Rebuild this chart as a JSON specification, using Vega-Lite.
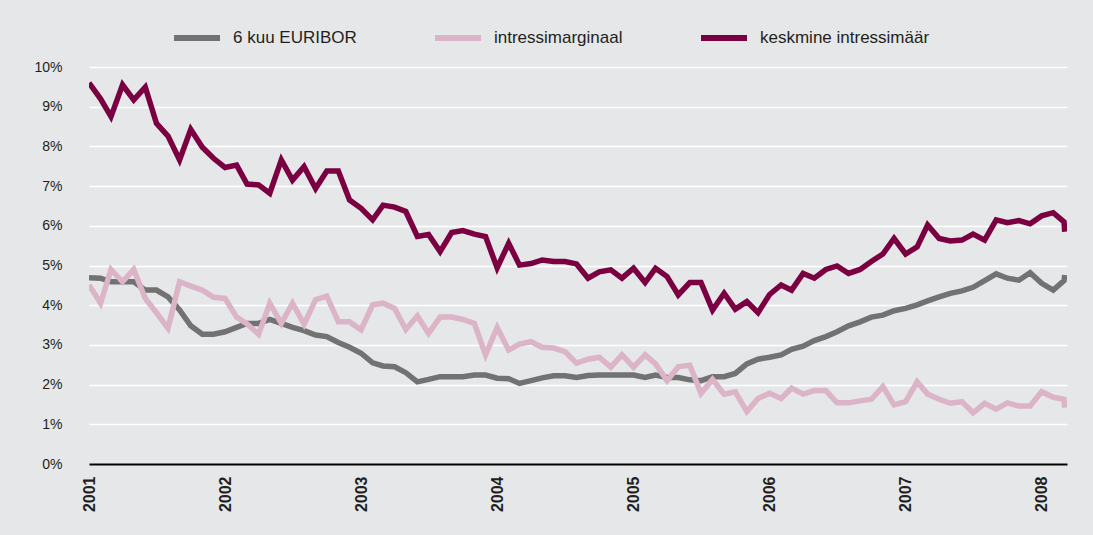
{
  "$schema": "https://vega.github.io/schema/vega-lite/v6.json",
  "width": 978,
  "height": 397,
  "autosize": {"type": "none"},
  "padding": {"left": 89, "top": 67, "right": 26, "bottom": 71},
  "background": "#e6e7e8",
  "config": {"view": {"stroke": null}, "font": "Liberation Sans"},
  "data": {"values": [
    {"date": "2001-01-01", "6 kuu EURIBOR": 4.69, "intressimarginaal": 4.51, "keskmine intressimäär": 9.6},
    {"date": "2001-02-01", "6 kuu EURIBOR": 4.68, "intressimarginaal": 4.05, "keskmine intressimäär": 9.2},
    {"date": "2001-03-01", "6 kuu EURIBOR": 4.59, "intressimarginaal": 4.90, "keskmine intressimäär": 8.75},
    {"date": "2001-04-01", "6 kuu EURIBOR": 4.59, "intressimarginaal": 4.59, "keskmine intressimäär": 9.55},
    {"date": "2001-05-01", "6 kuu EURIBOR": 4.59, "intressimarginaal": 4.90, "keskmine intressimäär": 9.17},
    {"date": "2001-06-01", "6 kuu EURIBOR": 4.38, "intressimarginaal": 4.17, "keskmine intressimäär": 9.49},
    {"date": "2001-07-01", "6 kuu EURIBOR": 4.38, "intressimarginaal": 3.81, "keskmine intressimäär": 8.58},
    {"date": "2001-08-01", "6 kuu EURIBOR": 4.21, "intressimarginaal": 3.42, "keskmine intressimäär": 8.26},
    {"date": "2001-09-01", "6 kuu EURIBOR": 3.88, "intressimarginaal": 4.59, "keskmine intressimäär": 7.66},
    {"date": "2001-10-01", "6 kuu EURIBOR": 3.48, "intressimarginaal": 4.48, "keskmine intressimäär": 8.43},
    {"date": "2001-11-01", "6 kuu EURIBOR": 3.27, "intressimarginaal": 4.38, "keskmine intressimäär": 7.98},
    {"date": "2001-12-01", "6 kuu EURIBOR": 3.27, "intressimarginaal": 4.20, "keskmine intressimäär": 7.70},
    {"date": "2002-01-01", "6 kuu EURIBOR": 3.33, "intressimarginaal": 4.17, "keskmine intressimäär": 7.47},
    {"date": "2002-02-01", "6 kuu EURIBOR": 3.44, "intressimarginaal": 3.70, "keskmine intressimäär": 7.53},
    {"date": "2002-03-01", "6 kuu EURIBOR": 3.54, "intressimarginaal": 3.53, "keskmine intressimäär": 7.05},
    {"date": "2002-04-01", "6 kuu EURIBOR": 3.54, "intressimarginaal": 3.27, "keskmine intressimäär": 7.03},
    {"date": "2002-05-01", "6 kuu EURIBOR": 3.64, "intressimarginaal": 4.05, "keskmine intressimäär": 6.82},
    {"date": "2002-06-01", "6 kuu EURIBOR": 3.54, "intressimarginaal": 3.54, "keskmine intressimäär": 7.66},
    {"date": "2002-07-01", "6 kuu EURIBOR": 3.44, "intressimarginaal": 4.05, "keskmine intressimäär": 7.15},
    {"date": "2002-08-01", "6 kuu EURIBOR": 3.36, "intressimarginaal": 3.52, "keskmine intressimäär": 7.49},
    {"date": "2002-09-01", "6 kuu EURIBOR": 3.25, "intressimarginaal": 4.14, "keskmine intressimäär": 6.94},
    {"date": "2002-10-01", "6 kuu EURIBOR": 3.21, "intressimarginaal": 4.23, "keskmine intressimäär": 7.38},
    {"date": "2002-11-01", "6 kuu EURIBOR": 3.06, "intressimarginaal": 3.58, "keskmine intressimäär": 7.38},
    {"date": "2002-12-01", "6 kuu EURIBOR": 2.94, "intressimarginaal": 3.58, "keskmine intressimäär": 6.65},
    {"date": "2003-01-01", "6 kuu EURIBOR": 2.79, "intressimarginaal": 3.38, "keskmine intressimäär": 6.44},
    {"date": "2003-02-01", "6 kuu EURIBOR": 2.55, "intressimarginaal": 4.01, "keskmine intressimäär": 6.15},
    {"date": "2003-03-01", "6 kuu EURIBOR": 2.47, "intressimarginaal": 4.05, "keskmine intressimäär": 6.52},
    {"date": "2003-04-01", "6 kuu EURIBOR": 2.45, "intressimarginaal": 3.92, "keskmine intressimäär": 6.47},
    {"date": "2003-05-01", "6 kuu EURIBOR": 2.30, "intressimarginaal": 3.39, "keskmine intressimäär": 6.36},
    {"date": "2003-06-01", "6 kuu EURIBOR": 2.07, "intressimarginaal": 3.73, "keskmine intressimäär": 5.73},
    {"date": "2003-07-01", "6 kuu EURIBOR": 2.13, "intressimarginaal": 3.29, "keskmine intressimäär": 5.78},
    {"date": "2003-08-01", "6 kuu EURIBOR": 2.20, "intressimarginaal": 3.70, "keskmine intressimäär": 5.35},
    {"date": "2003-09-01", "6 kuu EURIBOR": 2.20, "intressimarginaal": 3.70, "keskmine intressimäär": 5.83},
    {"date": "2003-10-01", "6 kuu EURIBOR": 2.20, "intressimarginaal": 3.64, "keskmine intressimäär": 5.88},
    {"date": "2003-11-01", "6 kuu EURIBOR": 2.24, "intressimarginaal": 3.54, "keskmine intressimäär": 5.79},
    {"date": "2003-12-01", "6 kuu EURIBOR": 2.24, "intressimarginaal": 2.75, "keskmine intressimäär": 5.73},
    {"date": "2004-01-01", "6 kuu EURIBOR": 2.16, "intressimarginaal": 3.44, "keskmine intressimäär": 4.94},
    {"date": "2004-02-01", "6 kuu EURIBOR": 2.15, "intressimarginaal": 2.87, "keskmine intressimäär": 5.56},
    {"date": "2004-03-01", "6 kuu EURIBOR": 2.03, "intressimarginaal": 3.02, "keskmine intressimäär": 5.01},
    {"date": "2004-04-01", "6 kuu EURIBOR": 2.10, "intressimarginaal": 3.08, "keskmine intressimäär": 5.05},
    {"date": "2004-05-01", "6 kuu EURIBOR": 2.17, "intressimarginaal": 2.94, "keskmine intressimäär": 5.14},
    {"date": "2004-06-01", "6 kuu EURIBOR": 2.22, "intressimarginaal": 2.92, "keskmine intressimäär": 5.10},
    {"date": "2004-07-01", "6 kuu EURIBOR": 2.22, "intressimarginaal": 2.83, "keskmine intressimäär": 5.10},
    {"date": "2004-08-01", "6 kuu EURIBOR": 2.18, "intressimarginaal": 2.54, "keskmine intressimäär": 5.04},
    {"date": "2004-09-01", "6 kuu EURIBOR": 2.23, "intressimarginaal": 2.64, "keskmine intressimäär": 4.68},
    {"date": "2004-10-01", "6 kuu EURIBOR": 2.24, "intressimarginaal": 2.69, "keskmine intressimäär": 4.84},
    {"date": "2004-11-01", "6 kuu EURIBOR": 2.24, "intressimarginaal": 2.44, "keskmine intressimäär": 4.89},
    {"date": "2004-12-01", "6 kuu EURIBOR": 2.24, "intressimarginaal": 2.75, "keskmine intressimäär": 4.68},
    {"date": "2005-01-01", "6 kuu EURIBOR": 2.24, "intressimarginaal": 2.44, "keskmine intressimäär": 4.93},
    {"date": "2005-02-01", "6 kuu EURIBOR": 2.18, "intressimarginaal": 2.75, "keskmine intressimäär": 4.57},
    {"date": "2005-03-01", "6 kuu EURIBOR": 2.24, "intressimarginaal": 2.52, "keskmine intressimäär": 4.93},
    {"date": "2005-04-01", "6 kuu EURIBOR": 2.18, "intressimarginaal": 2.10, "keskmine intressimäär": 4.72},
    {"date": "2005-05-01", "6 kuu EURIBOR": 2.18, "intressimarginaal": 2.45, "keskmine intressimäär": 4.26},
    {"date": "2005-06-01", "6 kuu EURIBOR": 2.12, "intressimarginaal": 2.49, "keskmine intressimäär": 4.57},
    {"date": "2005-07-01", "6 kuu EURIBOR": 2.10, "intressimarginaal": 1.78, "keskmine intressimäär": 4.57},
    {"date": "2005-08-01", "6 kuu EURIBOR": 2.20, "intressimarginaal": 2.13, "keskmine intressimäär": 3.88},
    {"date": "2005-09-01", "6 kuu EURIBOR": 2.20, "intressimarginaal": 1.76, "keskmine intressimäär": 4.30},
    {"date": "2005-10-01", "6 kuu EURIBOR": 2.28, "intressimarginaal": 1.82, "keskmine intressimäär": 3.90},
    {"date": "2005-11-01", "6 kuu EURIBOR": 2.52, "intressimarginaal": 1.32, "keskmine intressimäär": 4.09},
    {"date": "2005-12-01", "6 kuu EURIBOR": 2.64, "intressimarginaal": 1.65, "keskmine intressimäär": 3.81},
    {"date": "2006-01-01", "6 kuu EURIBOR": 2.69, "intressimarginaal": 1.78, "keskmine intressimäär": 4.27},
    {"date": "2006-02-01", "6 kuu EURIBOR": 2.75, "intressimarginaal": 1.65, "keskmine intressimäär": 4.51},
    {"date": "2006-03-01", "6 kuu EURIBOR": 2.89, "intressimarginaal": 1.91, "keskmine intressimäär": 4.38},
    {"date": "2006-04-01", "6 kuu EURIBOR": 2.97, "intressimarginaal": 1.76, "keskmine intressimäär": 4.80},
    {"date": "2006-05-01", "6 kuu EURIBOR": 3.11, "intressimarginaal": 1.85, "keskmine intressimäär": 4.68},
    {"date": "2006-06-01", "6 kuu EURIBOR": 3.21, "intressimarginaal": 1.85, "keskmine intressimäär": 4.90},
    {"date": "2006-07-01", "6 kuu EURIBOR": 3.33, "intressimarginaal": 1.54, "keskmine intressimäär": 4.99},
    {"date": "2006-08-01", "6 kuu EURIBOR": 3.48, "intressimarginaal": 1.54, "keskmine intressimäär": 4.80},
    {"date": "2006-09-01", "6 kuu EURIBOR": 3.58, "intressimarginaal": 1.59, "keskmine intressimäär": 4.90},
    {"date": "2006-10-01", "6 kuu EURIBOR": 3.70, "intressimarginaal": 1.63, "keskmine intressimäär": 5.10},
    {"date": "2006-11-01", "6 kuu EURIBOR": 3.75, "intressimarginaal": 1.95, "keskmine intressimäär": 5.29},
    {"date": "2006-12-01", "6 kuu EURIBOR": 3.86, "intressimarginaal": 1.49, "keskmine intressimäär": 5.68},
    {"date": "2007-01-01", "6 kuu EURIBOR": 3.92, "intressimarginaal": 1.57, "keskmine intressimäär": 5.29},
    {"date": "2007-02-01", "6 kuu EURIBOR": 4.01, "intressimarginaal": 2.07, "keskmine intressimäär": 5.47},
    {"date": "2007-03-01", "6 kuu EURIBOR": 4.11, "intressimarginaal": 1.76, "keskmine intressimäär": 6.02},
    {"date": "2007-04-01", "6 kuu EURIBOR": 4.21, "intressimarginaal": 1.63, "keskmine intressimäär": 5.68},
    {"date": "2007-05-01", "6 kuu EURIBOR": 4.30, "intressimarginaal": 1.53, "keskmine intressimäär": 5.62},
    {"date": "2007-06-01", "6 kuu EURIBOR": 4.36, "intressimarginaal": 1.57, "keskmine intressimäär": 5.64},
    {"date": "2007-07-01", "6 kuu EURIBOR": 4.45, "intressimarginaal": 1.29, "keskmine intressimäär": 5.79},
    {"date": "2007-08-01", "6 kuu EURIBOR": 4.62, "intressimarginaal": 1.53, "keskmine intressimäär": 5.64},
    {"date": "2007-09-01", "6 kuu EURIBOR": 4.79, "intressimarginaal": 1.38, "keskmine intressimäär": 6.15},
    {"date": "2007-10-01", "6 kuu EURIBOR": 4.68, "intressimarginaal": 1.54, "keskmine intressimäär": 6.08},
    {"date": "2007-11-01", "6 kuu EURIBOR": 4.63, "intressimarginaal": 1.46, "keskmine intressimäär": 6.13},
    {"date": "2007-12-01", "6 kuu EURIBOR": 4.82, "intressimarginaal": 1.46, "keskmine intressimäär": 6.05},
    {"date": "2008-01-01", "6 kuu EURIBOR": 4.55, "intressimarginaal": 1.82, "keskmine intressimäär": 6.25},
    {"date": "2008-02-01", "6 kuu EURIBOR": 4.38, "intressimarginaal": 1.68, "keskmine intressimäär": 6.33},
    {"date": "2008-03-01", "6 kuu EURIBOR": 4.62, "intressimarginaal": 1.63, "keskmine intressimäär": 6.10},
    {"date": "2008-03-03", "6 kuu EURIBOR": 4.76, "intressimarginaal": 1.42, "keskmine intressimäär": 5.85}
  ]},
  "transform": [
    {"fold": ["6 kuu EURIBOR", "intressimarginaal", "keskmine intressimäär"], "as": ["series", "value"]}
  ],
  "mark": {"type": "line", "strokeWidth": 5.5, "strokeJoin": "miter", "clip": true},
  "encoding": {
    "x": {
      "field": "date",
      "type": "temporal",
      "scale": {"type": "utc", "domain": [{"year": 2001, "month": 1, "date": 1, "utc": true}, {"year": 2008, "month": 3, "date": 9, "utc": true}]},
      "axis": {
        "title": null,
        "values": [
          {"year": 2001, "month": 1, "date": 1, "utc": true},
          {"year": 2002, "month": 1, "date": 1, "utc": true},
          {"year": 2003, "month": 1, "date": 1, "utc": true},
          {"year": 2004, "month": 1, "date": 1, "utc": true},
          {"year": 2005, "month": 1, "date": 1, "utc": true},
          {"year": 2006, "month": 1, "date": 1, "utc": true},
          {"year": 2007, "month": 1, "date": 1, "utc": true},
          {"year": 2008, "month": 1, "date": 1, "utc": true}
        ],
        "labelExpr": "utcFormat(datum.value, '%Y')",
        "labelAngle": 270,
        "labelFontWeight": "bold",
        "labelFontSize": 16,
        "labelColor": "#231f20",
        "labelPadding": 12,
        "labelFlush": false,
        "labelOverlap": false,
        "ticks": false,
        "grid": false,
        "domainColor": "#000000",
        "domainWidth": 2,
        "zindex": 1
      }
    },
    "y": {
      "field": "value",
      "type": "quantitative",
      "scale": {"domain": [0, 10], "nice": false},
      "axis": {
        "title": null,
        "values": [0, 1, 2, 3, 4, 5, 6, 7, 8, 9, 10],
        "labelExpr": "datum.value + '%'",
        "labelFontSize": 14,
        "labelColor": "#231f20",
        "labelPadding": 27,
        "domain": false,
        "ticks": false,
        "grid": true,
        "gridColor": "#ffffff",
        "gridWidth": 1.6,
        "gridOpacity": 1
      }
    },
    "color": {
      "field": "series",
      "type": "nominal",
      "scale": {
        "domain": ["6 kuu EURIBOR", "intressimarginaal", "keskmine intressimäär"],
        "range": ["#727272", "#dbb4c7", "#7b0041"]
      },
      "legend": {
        "title": null,
        "orient": "none",
        "legendX": 82,
        "legendY": -55,
        "direction": "horizontal",
        "symbolType": "stroke",
        "symbolSize": 2116,
        "symbolStrokeWidth": 6,
        "labelFontSize": 17,
        "labelLimit": 400,
        "labelColor": "#231f20",
        "labelOffset": 10,
        "columnPadding": 66
      }
    }
  }
}
